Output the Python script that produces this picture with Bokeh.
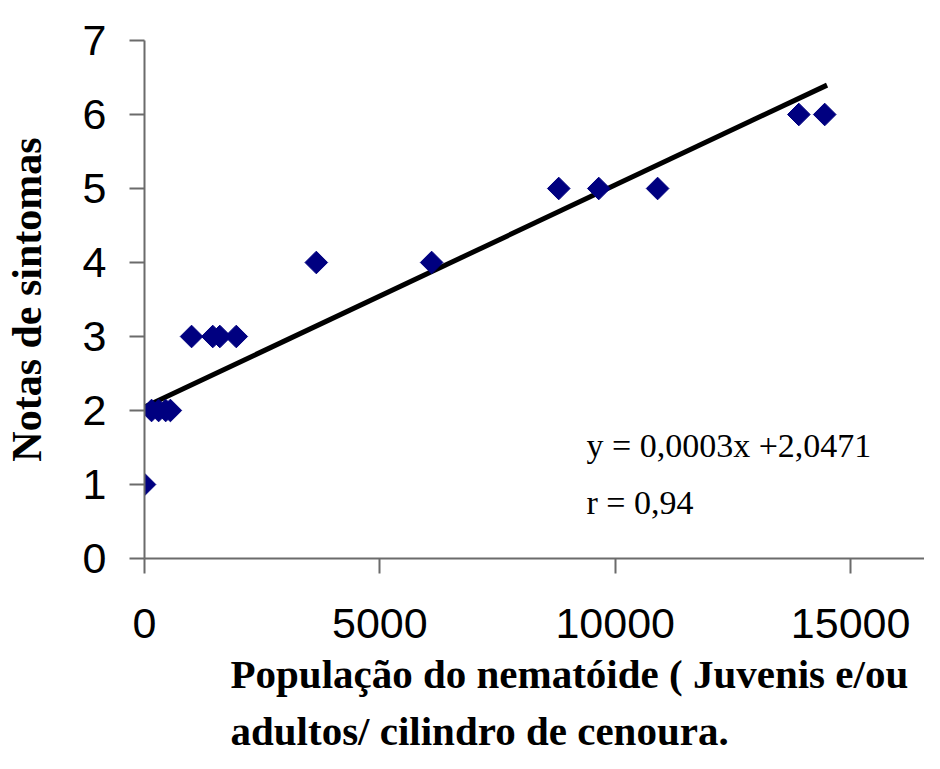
from bokeh.plotting import figure
from bokeh.models import Range1d, FixedTicker, Label, Title, ColumnDataSource
from bokeh.embed import file_html
from bokeh.resources import INLINE
import numpy as np

# --- data ---
pop_x = [0, 150, 300, 450, 550, 1000, 1450, 1600, 1950, 3650, 6100,
         8800, 9650, 10900, 13900, 14450]
notas_y = [1, 2, 2, 2, 2, 3, 3, 3, 3, 4, 4, 5, 5, 5, 6, 6]

slope = 0.0003
intercept = 2.0471
trend_x = [0, 14500]
trend_y = [slope * v + intercept for v in trend_x]

x_ticks = [0, 5000, 10000, 15000]
y_ticks = [0, 1, 2, 3, 4, 5, 6, 7]

eq_text = "y = 0,0003x +2,0471"
r_text = "r = 0,94"
y_title = "Notas de sintomas"
x_title_1 = "População do nematóide ( Juvenis e/ou"
x_title_2 = "adultos/ cilindro de cenoura."

p = figure(width=924, height=753, output_backend="svg", toolbar_location=None,
           x_range=Range1d(0, 16570), y_range=Range1d(0, 7),
           min_border_left=142, min_border_right=0, min_border_top=40,
           min_border_bottom=0)
p.outline_line_color = None
p.grid.visible = False
p.background_fill_color = "white"
p.border_fill_color = "white"

for ax in (p.xaxis[0], p.yaxis[0]):
    ax.axis_line_color = "#6b6b6b"
    ax.axis_line_width = 2
    ax.major_tick_line_color = "#6b6b6b"
    ax.major_tick_line_width = 2
    ax.major_tick_out = 15
    ax.major_tick_in = 0
    ax.minor_tick_line_color = None
    ax.major_label_text_font = "Liberation Sans"
    ax.major_label_text_font_size = "43px"
    ax.major_label_text_color = "black"

p.xaxis.ticker = FixedTicker(ticks=x_ticks)
p.yaxis.ticker = FixedTicker(ticks=y_ticks)
p.xaxis.major_label_standoff = 35
p.yaxis.major_label_standoff = 23

p.yaxis.axis_label = y_title
p.yaxis.axis_label_text_font = "Liberation Serif"
p.yaxis.axis_label_text_font_style = "bold"
p.yaxis.axis_label_text_font_size = "42px"
p.yaxis.axis_label_text_color = "black"
p.yaxis.axis_label_standoff = 30

src = ColumnDataSource(dict(x=pop_x, y=notas_y))
p.line(trend_x, trend_y, line_color="black", line_width=5)
p.scatter("x", "y", source=src, marker="square", size=16, angle=np.pi / 4,
          fill_color="#000080", line_color="#000080")

p.add_layout(Label(x=9390, y=1.53, text=eq_text, text_font="Liberation Serif",
                   text_font_size="34px", text_color="black",
                   text_baseline="alphabetic"))
p.add_layout(Label(x=9390, y=0.76, text=r_text, text_font="Liberation Serif",
                   text_font_size="34px", text_color="black",
                   text_baseline="alphabetic"))

t1 = Title(text=x_title_1, align="left", offset=86, text_font="Liberation Serif",
           text_font_style="bold", text_font_size="41px", text_color="black",
           standoff=17, vertical_align="bottom")
t2 = Title(text=x_title_2, align="left", offset=86, text_font="Liberation Serif",
           text_font_style="bold", text_font_size="41px", text_color="black",
           standoff=0, vertical_align="bottom")
p.add_layout(t1, "below")
p.add_layout(t2, "below")

open("out.html", "w").write(file_html(p, INLINE))
